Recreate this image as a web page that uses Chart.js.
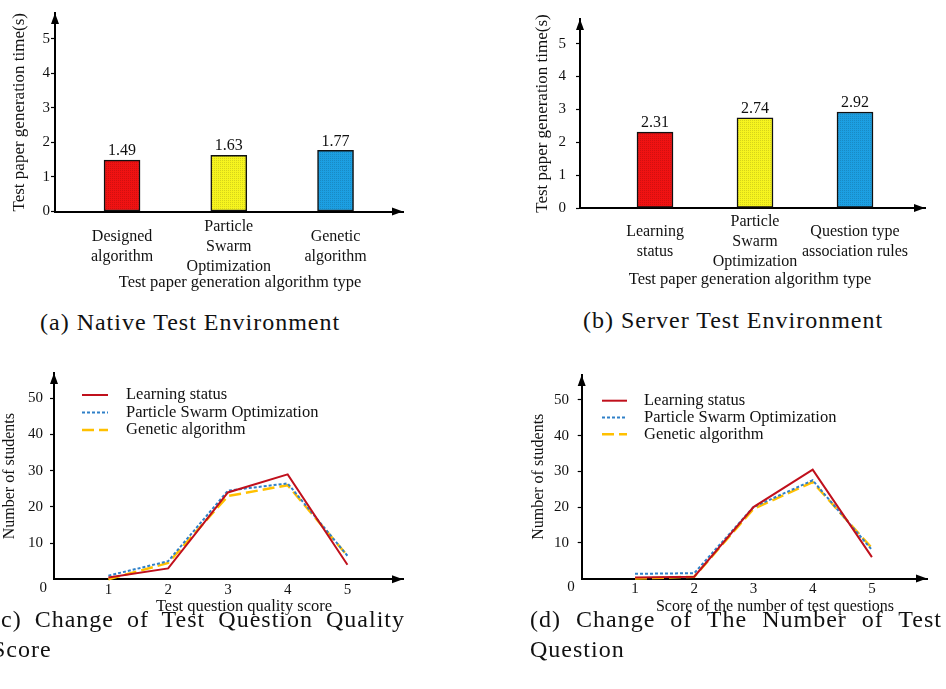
<!DOCTYPE html>
<html>
<head>
<meta charset="utf-8">
<script src="https://cdn.jsdelivr.net/npm/chart.js@4.4.1/dist/chart.umd.min.js"></script>
<style>
  body { margin: 0; background: #fff; width: 946px; height: 689px; overflow: hidden; position: relative; }
  .panel { position: absolute; }
  .cap { position: absolute; font-family: "Liberation Serif", serif; font-size: 24px; letter-spacing: 1px; color: #111; line-height: 30px; }
  .nowrap { white-space: nowrap; }
  .just { text-align: justify; }
</style>
</head>
<body>
<div class="panel" style="left:0;top:0;width:420px;height:300px"><canvas id="chart-a"></canvas></div>
<div class="panel" style="left:520px;top:0;width:426px;height:300px"><canvas id="chart-b"></canvas></div>
<div class="panel" style="left:0;top:350px;width:420px;height:265px"><canvas id="chart-c"></canvas></div>
<div class="panel" style="left:520px;top:350px;width:426px;height:265px"><canvas id="chart-d"></canvas></div>

<div class="cap nowrap" style="left:40px;top:307px">(a) Native Test Environment</div>
<div class="cap nowrap" style="left:583px;top:305px">(b) Server Test Environment</div>
<div class="cap just" style="left:-8px;top:604px;width:413px">(c) Change of Test Question Quality Score</div>
<div class="cap just" style="left:530px;top:604px;width:412px">(d) Change of The Number of Test Question</div>

<script>
// Data
const nativeAlgorithms = [['Designed', 'algorithm'], ['Particle', 'Swarm', 'Optimization'], ['Genetic', 'algorithm']];
const nativeTimes = [1.49, 1.63, 1.77];
const serverAlgorithms = [['Learning', 'status'], ['Particle', 'Swarm', 'Optimization'], ['Question type', 'association rules']];
const serverTimes = [2.31, 2.74, 2.92];
const timeTicks = [0, 1, 2, 3, 4, 5];

const scores = [1, 2, 3, 4, 5];
const studentTicks = [10, 20, 30, 40, 50];
const seriesNames = ['Learning status', 'Particle Swarm Optimization', 'Genetic algorithm'];
const qualityLearning = [0.5, 3, 24, 29, 4];
const qualityPSO = [1, 5, 24.5, 26.5, 6.5];
const qualityGA = [0, 4.5, 23, 26, 6.5];
const countLearning = [0.3, 0.5, 20, 30.5, 6];
const countPSO = [1.3, 1.5, 20, 27.5, 8];
const countGA = [0, 0.5, 19.5, 27, 8.5];

const SERIF = '"Liberation Serif", "Times New Roman", serif';
Chart.defaults.font.family = SERIF;
Chart.defaults.color = '#111';

const barColors = ['#f01212', '#f6f41e', '#1c9fe2'];
const lineColors = ['#c0101c', '#2f80c8', '#ffc000'];

// dotted texture like the printed bars
function stipple(color) {
  const c = document.createElement('canvas');
  c.width = 2; c.height = 2;
  const g = c.getContext('2d');
  g.fillStyle = color;
  g.fillRect(0, 0, 2, 2);
  g.fillStyle = 'rgba(0,0,0,0.13)';
  g.fillRect(0, 0, 1, 1);
  return g.createPattern(c, 'repeat');
}

// arrows, origin zero, x title, legend and bar values
const decor = {
  id: 'decor',
  afterDraw(chart, _args, opts) {
    const { ctx, chartArea: a } = chart;
    ctx.save();
    ctx.fillStyle = '#000';
    // y arrow
    ctx.beginPath();
    ctx.moveTo(a.left, a.top);
    ctx.lineTo(a.left - 4, a.top + 11);
    ctx.lineTo(a.left + 4, a.top + 11);
    ctx.closePath();
    ctx.fill();
    // x arrow
    ctx.beginPath();
    ctx.moveTo(a.right, a.bottom);
    ctx.lineTo(a.right - 11, a.bottom - 4);
    ctx.lineTo(a.right - 11, a.bottom + 4);
    ctx.closePath();
    ctx.fill();

    ctx.fillStyle = '#111';
    ctx.textBaseline = 'middle';
    if (opts.xTitle) {
      ctx.font = opts.xTitleSize + 'px ' + SERIF;
      ctx.textAlign = 'center';
      ctx.fillText(opts.xTitle, opts.xTitleX, opts.xTitleY);
    }
    if (opts.origin) {
      ctx.font = '15px ' + SERIF;
      ctx.textAlign = 'right';
      ctx.fillText('0', a.left - 7, a.bottom + 9);
    }
    if (opts.values) {
      ctx.font = '16px ' + SERIF;
      ctx.textAlign = 'center';
      ctx.textBaseline = 'bottom';
      const meta = chart.getDatasetMeta(0);
      meta.data.forEach((bar, i) => {
        ctx.fillText(chart.data.datasets[0].data[i].y.toFixed(2), bar.x, bar.y - 1);
      });
    }
    if (opts.legend) {
      const lg = opts.legend;
      ctx.font = '16.5px ' + SERIF;
      ctx.textAlign = 'left';
      ctx.textBaseline = 'middle';
      chart.data.datasets.forEach((ds, i) => {
        const y = lg.y0 + i * lg.rowH;
        ctx.strokeStyle = ds.borderColor;
        ctx.lineWidth = ds.borderWidth;
        ctx.setLineDash(ds.borderDash || []);
        ctx.beginPath();
        ctx.moveTo(lg.x1, y);
        ctx.lineTo(lg.x2, y);
        ctx.stroke();
        ctx.setLineDash([]);
        ctx.fillText(ds.label, lg.textX, y);
      });
    }
    ctx.restore();
  },
};

function yScale(opts) {
  return {
    type: 'linear',
    min: 0,
    max: opts.max,
    afterBuildTicks: (s) => { s.ticks = opts.ticks.map((v) => ({ value: v })); },
    afterFit: (s) => { s.width = opts.width; },
    border: { display: true, color: '#000', width: 2 },
    grid: { drawOnChartArea: false, drawTicks: true, tickLength: 4, tickColor: '#000', tickWidth: 1.2 },
    ticks: { font: { size: 15 }, padding: opts.pad, color: '#111' },
    title: { display: true, text: opts.title, font: { size: opts.titleSize }, padding: { top: opts.titlePad, bottom: 0 }, color: '#111' },
  };
}

function xScale(opts) {
  return {
    type: 'linear',
    offset: false,
    min: opts.min,
    max: opts.max,
    afterBuildTicks: (s) => { s.ticks = opts.values.map((v) => ({ value: v })); },
    afterFit: (s) => { s.height = opts.height; },
    border: { display: true, color: '#000', width: 2 },
    grid: { display: false, drawTicks: false },
    ticks: {
      autoSkip: false,
      maxRotation: 0,
      minRotation: 0,
      crossAlign: opts.crossAlign || 'near',
      padding: opts.pad,
      font: { size: opts.fontSize, lineHeight: 1.25 },
      color: '#111',
      callback: (v) => opts.labels[opts.values.indexOf(v)],
    },
  };
}

function barChart(id, labels, times, box) {
  return new Chart(document.getElementById(id), {
    type: 'bar',
    data: {
      datasets: [{
        data: times.map((v, i) => ({ x: i + 1, y: v })),
        backgroundColor: barColors.map(stipple),
        borderColor: '#111',
        borderWidth: 1.5,
        borderSkipped: false,
        barThickness: 36,
      }],
    },
    options: {
      responsive: true,
      maintainAspectRatio: false,
      animation: false,
      devicePixelRatio: 1,
      layout: { padding: { top: box.top, right: box.right, left: 0, bottom: 0 } },
      scales: {
        x: xScale({ min: box.xMin, max: box.xMax, labels, values: [1, 2, 3], height: box.xHeight, pad: box.xPad, fontSize: 16, crossAlign: 'center' }),
        y: yScale({ max: 5.75, ticks: timeTicks, width: box.left, pad: box.yPad, title: 'Test paper generation time(s)', titleSize: 17, titlePad: box.titlePad }),
      },
      plugins: {
        legend: { display: false },
        tooltip: { enabled: false },
        decor: { xTitle: 'Test paper generation algorithm type', xTitleSize: 16.5, xTitleX: box.xTitleX, xTitleY: box.xTitleY, values: true },
      },
    },
    plugins: [decor],
  });
}

function lineChart(id, series, xTitle, box) {
  const dashes = [[], [3, 2], [12, 5]];
  const widths = [2, 2, 2.5];
  return new Chart(document.getElementById(id), {
    type: 'line',
    data: {
      datasets: series.map((vals, k) => ({
        label: seriesNames[k],
        data: vals.map((v, i) => ({ x: scores[i], y: v })),
        borderColor: lineColors[k],
        borderWidth: widths[k],
        borderDash: dashes[k],
        pointRadius: 0,
        tension: 0,
        fill: false,
        clip: false,
        order: k === 0 ? 0 : 1,
      })),
    },
    options: {
      responsive: true,
      maintainAspectRatio: false,
      animation: false,
      devicePixelRatio: 1,
      layout: { padding: { top: box.top, right: box.right, left: 0, bottom: 0 } },
      scales: {
        x: xScale({ min: box.xMin, max: box.xMax, labels: scores.map(String), values: scores, height: box.xHeight, pad: 1, fontSize: 15 }),
        y: yScale({ max: 57, ticks: studentTicks, width: box.left, pad: box.yPad, title: 'Number of students', titleSize: 16, titlePad: box.titlePad }),
      },
      plugins: {
        legend: { display: false },
        tooltip: { enabled: false },
        decor: { xTitle, xTitleSize: box.xTitleSize, xTitleX: box.xTitleX, xTitleY: box.xTitleY, origin: true, legend: box.legend },
      },
    },
    plugins: [decor],
  });
}

barChart('chart-a', nativeAlgorithms, nativeTimes, {
  left: 55, top: 13, right: 17, xHeight: 88.5, xMin: 0.372, xMax: 3.632,
  xPad: 15, yPad: 1, titlePad: 9, xTitleX: 240, xTitleY: 283,
});
barChart('chart-b', serverAlgorithms, serverTimes, {
  left: 60, top: 10, right: 21, xHeight: 92, xMin: 0.25, xMax: 3.7,
  xPad: 14, yPad: 10, titlePad: 12, xTitleX: 230, xTitleY: 280,
});
lineChart('chart-c', [qualityLearning, qualityPSO, qualityGA], 'Test question quality score', {
  left: 54, top: 23, right: 17, xHeight: 35.7, xMin: 0.09, xMax: 5.93,
  yPad: 7, titlePad: 0.4, xTitleX: 244, xTitleY: 257, xTitleSize: 16.5,
  legend: { x1: 82, x2: 108, textX: 126, y0: 45, rowH: 17.5 },
});
lineChart('chart-d', [countLearning, countPSO, countGA], 'Score of the number of test questions', {
  left: 61.7, top: 25, right: 19, xHeight: 36.5, xMin: 0.1, xMax: 5.93,
  yPad: 8.7, titlePad: 8.7, xTitleX: 255, xTitleY: 257, xTitleSize: 16,
  legend: { x1: 82, x2: 107, textX: 124, y0: 50.7, rowH: 16.8 },
});
</script>
</body>
</html>
